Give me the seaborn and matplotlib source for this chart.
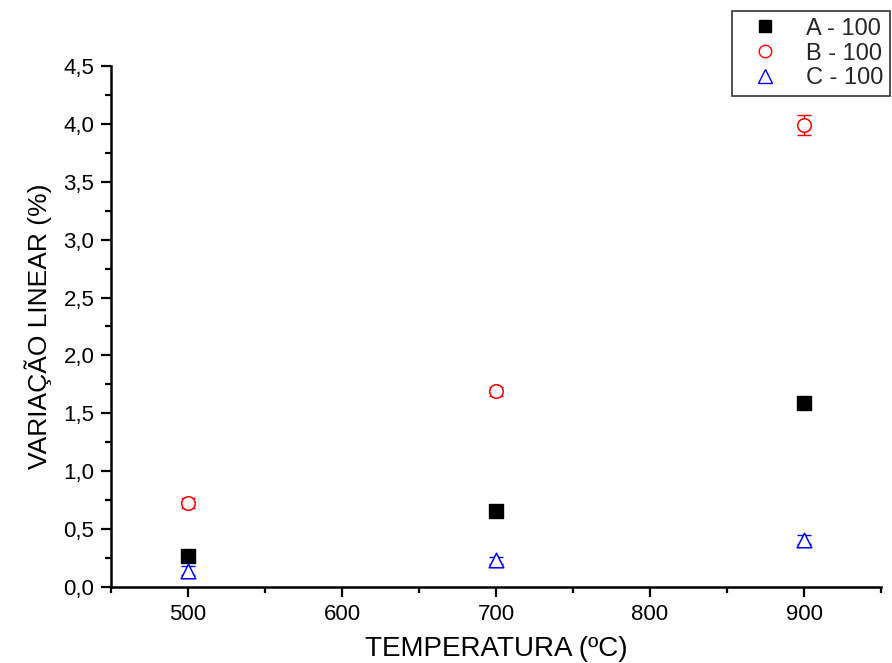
import numpy as np
import pandas as pd
import matplotlib
matplotlib.use("Agg")
import matplotlib.pyplot as plt
from matplotlib.ticker import MultipleLocator, FuncFormatter
from matplotlib.lines import Line2D
import seaborn as sns

# dados
temperatura = [500, 700, 900]
serie_a = [0.27, 0.66, 1.59]
serie_b = [0.725, 1.69, 3.99]
serie_c = [0.14, 0.23, 0.41]
erro_a = [0.02, 0.02, 0.02]
erro_b = [0.04, 0.04, 0.09]
erro_c = [0.04, 0.03, 0.04]
nomes = ["A - 100", "B - 100", "C - 100"]

sns.set_theme(style="ticks")
plt.rcParams['font.family'] = ['Liberation Sans', 'DejaVu Sans']

df = pd.DataFrame({
    "temp": temperatura * 3,
    "valor": serie_a + serie_b + serie_c,
    "erro": erro_a + erro_b + erro_c,
    "serie": [n for n in nomes for _ in temperatura],
})

cores = {"A - 100": "black", "B - 100": "red", "C - 100": "blue"}
marcadores = {"A - 100": "s", "B - 100": "o", "C - 100": "^"}

fig = plt.figure(figsize=(8.92, 6.63), dpi=100)
ax = fig.add_axes([0.1244, 0.1146, 0.8633, 0.7859])

# barras de erro
for nome in nomes:
    sub = df[df["serie"] == nome]
    ax.errorbar(sub["temp"], sub["valor"], yerr=sub["erro"], fmt="none",
                ecolor=cores[nome], elinewidth=1, capsize=5, capthick=1, zorder=2)

for nome in nomes:
    sub = df[df["serie"] == nome]
    filled = nome == "A - 100"
    sns.scatterplot(data=sub, x="temp", y="valor", ax=ax, marker=marcadores[nome],
                    s=95 if nome != "C - 100" else 110,
                    color=cores[nome] if filled else "white",
                    edgecolor=cores[nome], linewidth=1.0 if filled else 1.1,
                    label=nome, zorder=3, legend=False)

ax.set_xlim(450, 950)
ax.set_ylim(0, 4.5)
ax.xaxis.set_major_locator(MultipleLocator(100))
ax.xaxis.set_minor_locator(MultipleLocator(50))
ax.yaxis.set_major_locator(MultipleLocator(0.5))
ax.yaxis.set_minor_locator(MultipleLocator(0.25))
ax.yaxis.set_major_formatter(FuncFormatter(lambda v, p: f"{v:.1f}".replace(".", ",")))

ax.tick_params(axis="both", which="major", direction="out", length=7, width=1.6,
               labelsize=16, color="black", labelcolor="black", pad=5)
ax.tick_params(axis="both", which="minor", direction="out", length=4, width=1.6, color="black")
sns.despine(ax=ax)
for s in ["left", "bottom"]:
    ax.spines[s].set_linewidth(1.8)
    ax.spines[s].set_color("black")

ax.set_xlabel("TEMPERATURA (ºC)", fontsize=20, labelpad=8, color="black")
ax.set_ylabel("VARIAÇÃO LINEAR (%)", fontsize=19, labelpad=8, color="black")

# legenda
handles = [
    Line2D([], [], marker="s", color="black", linestyle="none", markersize=9),
    Line2D([], [], marker="o", markerfacecolor="white", markeredgecolor="red", linestyle="none", markersize=9),
    Line2D([], [], marker="^", markerfacecolor="white", markeredgecolor="blue", linestyle="none", markersize=10),
]
leg = fig.legend(handles, nomes, loc="upper left", bbox_to_anchor=(0.821, 0.984),
                 fontsize=17, frameon=True, fancybox=False, edgecolor="black",
                 handletextpad=0.6, borderpad=0.3, labelspacing=0.12, handlelength=2.2,
                 borderaxespad=0)
leg.get_frame().set_linewidth(1.2)

fig.savefig("out.png", dpi=100)
